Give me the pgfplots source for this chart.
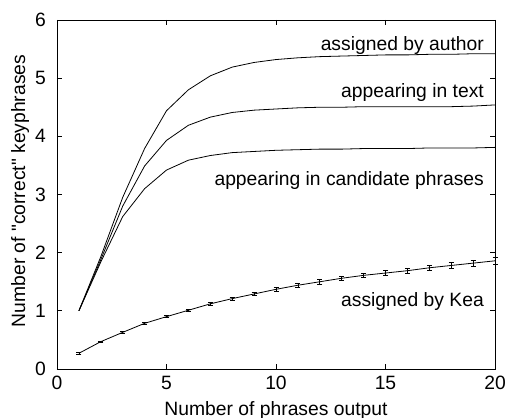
\documentclass[border=0pt]{standalone}
\usepackage{pgfplots}
\pgfplotsset{compat=1.18}
\usepackage{pgfplotstable}
\usepackage{fontspec}
\setmainfont{Liberation Sans}
\newfontfamily\plainfont{Liberation Sans}
\newcommand{\chfont}{\fontsize{19.3bp}{23bp}\selectfont}

\pgfplotstableread{
x y
1 1.00
2 1.93
3 2.95
4 3.79
5 4.44
6 4.80
7 5.04
8 5.19
9 5.27
10 5.32
11 5.35
12 5.37
13 5.38
14 5.39
15 5.40
16 5.40
17 5.41
18 5.41
19 5.42
20 5.42
}\author

\pgfplotstableread{
x y
1 1.00
2 1.88
3 2.80
4 3.49
5 3.93
6 4.19
7 4.33
8 4.41
9 4.45
10 4.47
11 4.49
12 4.50
13 4.50
14 4.51
15 4.51
16 4.51
17 4.51
18 4.51
19 4.52
20 4.54
}\intext

\pgfplotstableread{
x y
1 1.00
2 1.84
3 2.62
4 3.10
5 3.42
6 3.59
7 3.67
8 3.72
9 3.74
10 3.76
11 3.77
12 3.78
13 3.78
14 3.79
15 3.79
16 3.79
17 3.80
18 3.80
19 3.80
20 3.81
}\candidate

\pgfplotstableread{
x y e
1 0.27 0.010
2 0.47 0.012
3 0.63 0.015
4 0.785 0.018
5 0.90 0.020
6 1.01 0.022
7 1.12 0.025
8 1.21 0.028
9 1.29 0.030
10 1.37 0.032
11 1.44 0.035
12 1.50 0.038
13 1.56 0.040
14 1.61 0.042
15 1.65 0.045
16 1.69 0.048
17 1.74 0.050
18 1.78 0.052
19 1.82 0.055
20 1.86 0.058
}\kea

\begin{document}
\chfont
\begin{tikzpicture}
\begin{axis}[
  scale only axis,
  width=438bp, height=349bp,
  xmin=0, xmax=20, ymin=0, ymax=6,
  xtick={0,5,10,15,20}, ytick={0,1,2,3,4,5,6},
  tick align=inside,
  major tick length=5bp,
  tick style={black, line width=0.8bp},
  axis line style={black, line width=0.9bp},
  /pgf/number format/assume math mode=true,
  tick label style={font=\chfont, inner sep=0pt},
  xticklabel style={anchor=north, yshift=-7bp},
  yticklabel style={anchor=east, xshift=-11bp},
  xlabel={Number of phrases output},
  ylabel={Number of {\plainfont"}correct{\plainfont"} keyphrases},
  label style={font=\chfont, inner sep=0pt},
  xlabel style={at={(axis description cs:0.5,-0.0917)}, anchor=north},
  ylabel style={at={(axis description cs:-0.073,0.51)}, anchor=base, rotate=0},
  clip=false,
]
\addplot[black, line width=0.8bp, mark=none] table[x=x,y=y] {\author};
\addplot[black, line width=0.8bp, mark=none] table[x=x,y=y] {\intext};
\addplot[black, line width=0.8bp, mark=none] table[x=x,y=y] {\candidate};
\addplot[black, line width=0.8bp, mark=none,
  error bars/.cd, y dir=both, y explicit,
  error bar style={black, line width=0.7bp},
  error mark=|,
  error mark options={black, mark size=2.5bp, line width=0.7bp}]
  table[x=x,y=y,y error=e] {\kea};
\node[anchor=base east, inner sep=0pt, font=\chfont] at (axis cs:19.5,5.48) {assigned by author};
\node[anchor=base east, inner sep=0pt, font=\chfont] at (axis cs:19.5,4.66) {appearing in text};
\node[anchor=base east, inner sep=0pt, font=\chfont] at (axis cs:19.5,3.16) {appearing in candidate phrases};
\node[anchor=base east, inner sep=0pt, font=\chfont] at (axis cs:19.5,1.07) {assigned by Kea};
\coordinate (bl) at (rel axis cs:0,0);
\coordinate (tr) at (rel axis cs:1,1);
\end{axis}
\pgfresetboundingbox
\path[use as bounding box] ([xshift=-57bp,yshift=-49bp]bl) rectangle ([xshift=13bp,yshift=20bp]tr);
\end{tikzpicture}
\end{document}
